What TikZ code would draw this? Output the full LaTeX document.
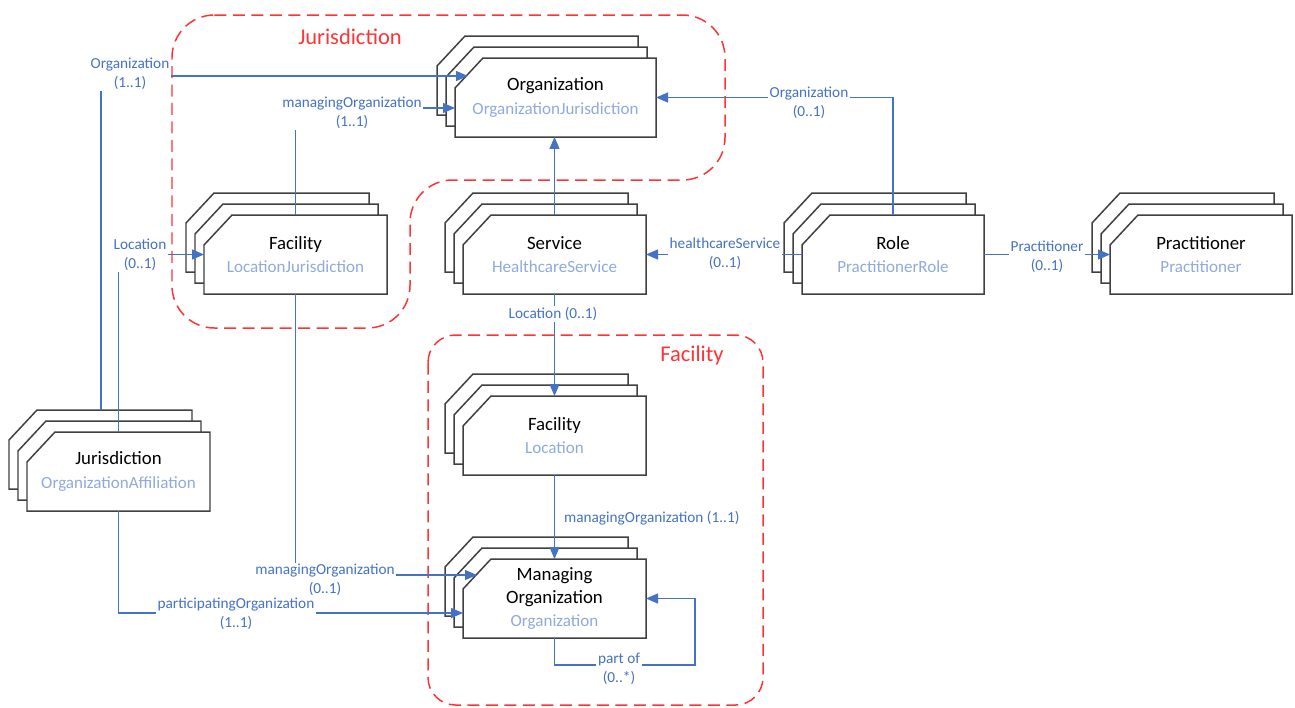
\documentclass[tikz,border=0pt]{standalone}
\usepackage{fontspec}
\setmainfont{Carlito}
\usepackage{xcolor}
\usetikzlibrary{positioning,calc,arrows.meta}

\definecolor{linkblue}{HTML}{4472C4}
\definecolor{subblue}{HTML}{8FAADC}
\definecolor{zonered}{HTML}{FF3333}
\definecolor{edgegray}{HTML}{404040}

\newcommand{\subt}[1]{{\fontsize{9.7}{13.3}\selectfont\color{subblue}#1}}

% stack of three sheets, front sheet named #1, top-left (#2,#3), width #4
\newcommand{\cardstack}[5]{%
  \foreach \k in {2,1,0}
    \draw[sheet] ({#2-9*\k},{#3-11*\k+30}) -- ++(28,-30) -- ++({#4-28},0) -- ++(0,79) -- ++({-#4},0) -- cycle;
  \node[card, minimum width={#4*0.02cm}] (#1) at ({#2+#4/2},{#3+39.5}) {#5};
}

\begin{document}
\begin{tikzpicture}[x=0.02cm, y=-0.02cm,
  sheet/.style={draw=edgegray, line width=0.85pt, fill=white},
  card/.style={inner sep=0pt, outer sep=0pt, minimum height=1.58cm, align=center,
    font=\fontsize{10.7}{13.3}\selectfont},
  link/.style={draw=linkblue, line width=0.65pt, -{Triangle[length=0.24cm, width=0.2cm]}},
  lbl/.style={font=\fontsize{8.7}{10.6}\selectfont, text=linkblue, fill=white, inner sep=1pt, align=center},
  zone/.style={draw=zonered, line width=0.85pt, dash pattern=on 0.24cm off 0.13cm},
  zonetitle/.style={font=\fontsize{12.8}{15}\selectfont, text=zonered}]
  \useasboundingbox (0,0) rectangle (1295,707);

  % Red groupings
  \draw[zone, rounded corners=0.85cm] (172,15) -- (725,15) -- (725,180) -- (410,180) -- (410,328) -- (172,328) -- cycle;
  \draw[zone, rounded corners=0.55cm] (428,335) rectangle (763,705);
  \node[zonetitle] (zjur) at (350,37) {Jurisdiction};
  \node[zonetitle] (zfac) at (692,355) {Facility};

  % Resources
  \cardstack{org}{455}{58}{201}{Organization\\\subt{OrganizationJurisdiction}}
  \cardstack{locj}{204}{215}{183}{Facility\\\subt{LocationJurisdiction}}
  \cardstack{svc}{463}{215}{183}{Service\\\subt{HealthcareService}}
  \cardstack{role}{802}{215}{182}{Role\\\subt{PractitionerRole}}
  \cardstack{pract}{1110}{215}{182}{Practitioner\\\subt{Practitioner}}
  \cardstack{loc}{463}{396}{183}{Facility\\\subt{Location}}
  \cardstack{morg}{463}{559}{183}{Managing\\Organization\\\subt{Organization}}
  \cardstack{jur}{27}{432}{183}{Jurisdiction\\\subt{OrganizationAffiliation}}

  % References
  \draw[link] ($(jur.north west)+(74,-22)$) |- ($(org.west)+(13,-21.5)$);
  \draw[link] (jur.north) |- (locj.west);
  \draw[link] (locj.north) |- ($(org.west)+(0,10.5)$);
  \draw[link] (locj.south) |- ($(morg.west)+(14,-23.5)$);
  \draw[link] (jur.south) |- ($(morg.west)+(0,14.5)$);
  \draw[link] (svc.north) -- (svc.north |- org.south);
  \draw[link] (role.north) |- (org.east);
  \draw[link] (role.west) -- (svc.east);
  \draw[link] (role.east) -- (pract.west);
  \draw[link] (svc.south) -- (loc.north);
  \draw[link] (loc.south) -- (morg.north);
  \draw[link] (morg.south) -- ++(0,27) -| ($(morg.east)+(49,0)$) -- (morg.east);

  % Cardinalities
  \node[lbl] (lorgj) at (130,74) {Organization\\(1..1)};
  \node[lbl] (lloc) at (140,255) {Location\\(0..1)};
  \node[lbl] (lmgup) at (352,113) {managingOrganization\\(1..1)};
  \node[lbl] (lmgdn) at (325,580) {managingOrganization\\(0..1)};
  \node[lbl] (lpart) at (236,614) {participatingOrganization\\(1..1)};
  \node[lbl] (lorgr) at (809,103) {Organization\\(0..1)};
  \node[lbl] (lhcs) at (725,254) {healthcareService\\(0..1)};
  \node[lbl] (lprac) at (1047,257) {Practitioner\\(0..1)};
  \node[lbl] (lsvcloc) at (553,314) {Location (0..1)};
  \node[lbl, fill=none, anchor=west] (lmg) at (562,518) {managingOrganization (1..1)};
  \node[lbl] (lpartof) at (619,669) {part of\\(0..*)};
\end{tikzpicture}
\end{document}
